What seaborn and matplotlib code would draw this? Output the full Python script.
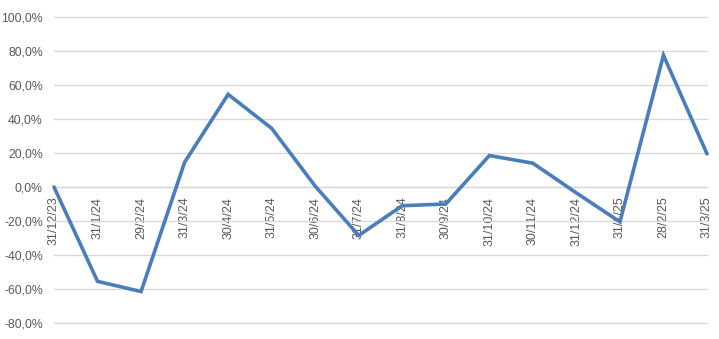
import matplotlib
matplotlib.use("Agg")
import matplotlib.pyplot as plt
import seaborn as sns
import pandas as pd
from matplotlib.ticker import FuncFormatter, MultipleLocator

dates = ["31/12/23", "31/1/24", "29/2/24", "31/3/24", "30/4/24", "31/5/24",
         "30/6/24", "31/7/24", "31/8/24", "30/9/24", "31/10/24", "30/11/24",
         "31/12/24", "31/1/25", "28/2/25", "31/3/25"]
values = [0.0, -55.5, -61.5, 14.5, 54.5, 34.5,
          0.5, -28.5, -11.0, -10.0, 18.5, 14.0,
          -3.5, -20.5, 77.5, 19.5]

df = pd.DataFrame({"pos": range(len(dates)), "val": [v / 100 for v in values]})

sns.set_style("white")
plt.rcParams['font.family'] = ['Liberation Sans', 'DejaVu Sans']

fig = plt.figure(figsize=(7.19, 3.39), dpi=100)
ax = fig.add_axes([54 / 719, 16 / 339, (707 - 54) / 719, (323 - 17) / 339])

sns.lineplot(data=df, x="pos", y="val", ax=ax, color="#4a7ebb", linewidth=2.6,
             solid_joinstyle="miter", zorder=3, clip_on=False)

ax.set_xlim(0, len(dates) - 1)
ax.set_ylim(-0.8, 1.0)
ax.yaxis.set_major_locator(MultipleLocator(0.2))
ax.yaxis.set_major_formatter(FuncFormatter(lambda v, p: f"{v*100:.1f}%".replace(".", ",")))
ax.grid(axis="y", color="#d9d9d9", linewidth=1)
for gl in ax.get_ygridlines():
    gl.set_clip_on(False)
ax.set_axisbelow(True)

for s in ["top", "right", "left"]:
    ax.spines[s].set_visible(False)
ax.spines["bottom"].set_position(("data", 0))
ax.spines["bottom"].set_color("#d9d9d9")
ax.spines["bottom"].set_linewidth(1)

ax.set_xticks(range(len(dates)))
ax.set_xticklabels(dates, rotation=90, va="top", ha="center")
ax.tick_params(axis="x", length=5, color="#d9d9d9", labelcolor="#595959", labelsize=9, pad=2)
ax.tick_params(axis="y", length=0, labelcolor="#595959", labelsize=8.8, pad=8)
ax.set_xlabel("")
ax.set_ylabel("")

fig.savefig("out.png", dpi=100)
